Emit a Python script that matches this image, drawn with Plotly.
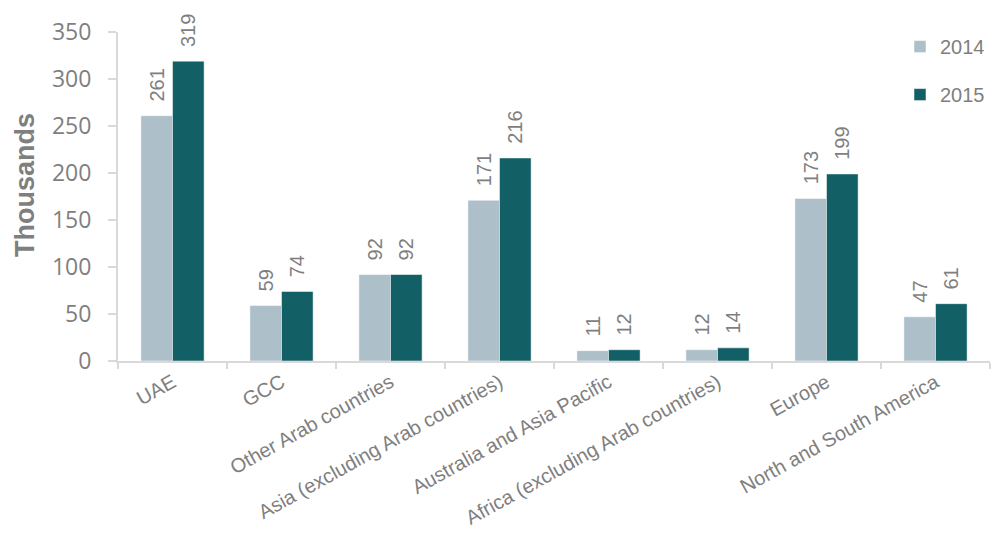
import plotly.graph_objects as go

categories = ["UAE", "GCC", "Other Arab countries", "Asia (excluding Arab countries)",
              "Australia and Asia Pacific", "Africa (excluding Arab countries)",
              "Europe", "North and South America"]
values_2014 = [261, 59, 92, 171, 11, 12, 173, 47]
values_2015 = [319, 74, 92, 216, 12, 14, 199, 61]
series_names = ["2014", "2015"]
colors = ["#adbfc9", "#135f66"]

grey = "#7f7f7f"
fig = go.Figure()
for name, vals, col in zip(series_names, [values_2014, values_2015], colors):
    fig.add_trace(go.Bar(
        x=categories, y=vals, name=name, legendgroup=name,
        marker=dict(color=col, line=dict(color="white", width=0.5)),
        # leading non-breaking spaces lift the rotated labels off the bar tops
        text=["\u00a0\u00a0" + str(v) for v in vals], textposition="outside", textangle=-90,
        constraintext="none",
        textfont=dict(family="Liberation Sans, Arial", size=20, color=grey),
        cliponaxis=False,
    ))

# page body adds an 8px offset, so the figure is sized/margined to compensate
fig.update_layout(
    width=995, height=536,
    margin=dict(l=110, r=13, t=24, b=183),
    paper_bgcolor="white", plot_bgcolor="white",
    barmode="group", bargap=0.42, bargroupgap=0,
    showlegend=True,
    legend=dict(x=1.0, y=1.015, xanchor="right", yanchor="top",
                font=dict(family="Liberation Sans, Arial", size=20, color=grey),
                tracegroupgap=19, itemwidth=30, bgcolor="rgba(0,0,0,0)"),
    xaxis=dict(showline=True, linecolor="#d9d9d9", linewidth=2, automargin=False,
               ticks="outside", tickson="boundaries", tickcolor="#d9d9d9", ticklen=6, tickwidth=2,
               tickangle=-29,
               tickfont=dict(family="Liberation Sans, Arial", size=20, color=grey)),
    yaxis=dict(range=[0, 350], dtick=50, showgrid=False, zeroline=False, automargin=False,
               showline=True, linecolor="#d9d9d9", linewidth=2,
               ticks="outside", tickcolor="#d9d9d9", ticklen=8, tickwidth=2,
               ticklabelstandoff=12,
               tickfont=dict(family="Open Sans", size=23, color=grey)),
    annotations=[dict(text="<b>Thousands</b>", textangle=-90, showarrow=False,
                      xref="paper", yref="paper", x=-93 / 872, y=(361 - 185) / 329,
                      xanchor="center", yanchor="middle",
                      font=dict(family="Liberation Sans, Arial", size=27, color=grey))],
)

fig.write_html("out.html")
